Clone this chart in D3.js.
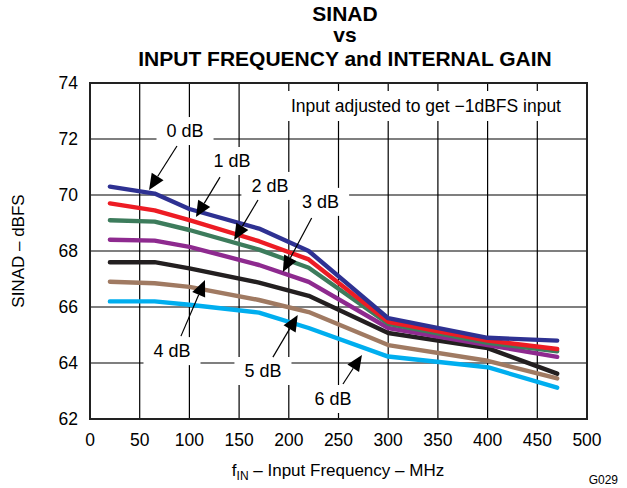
<!DOCTYPE html>
<html>
<head>
<meta charset="utf-8">
<script src="https://cdn.jsdelivr.net/npm/d3@7"></script>
<style>
  body { margin: 0; background: #fff; }
  text { font-family: "Liberation Sans", Arial, sans-serif; }
</style>
</head>
<body>
<div class="chart"></div>
<script>
// frequencies (MHz)
var freq = [20, 65, 100, 170, 220, 300, 400, 470]
// SINAD (dBFS) per internal gain
var gain0 = [70.3, 70.05, 69.5, 68.8, 68.0, 65.6, 64.9, 64.8]
var gain1 = [69.7, 69.45, 69.1, 68.35, 67.7, 65.47, 64.8, 64.5]
var gain2 = [69.1, 69.05, 68.75, 68.05, 67.4, 65.4, 64.72, 64.42]
var gain3 = [68.4, 68.37, 68.15, 67.5, 66.9, 65.25, 64.64, 64.22]
var gain4 = [67.6, 67.6, 67.38, 66.87, 66.4, 65.07, 64.53, 63.62]
var gain5 = [66.9, 66.85, 66.72, 66.25, 65.82, 64.64, 64.08, 63.45]
var gain6 = [66.2, 66.2, 66.08, 65.8, 65.25, 64.23, 63.85, 63.12]
var seriesNames = ["0 dB", "1 dB", "2 dB", "3 dB", "4 dB", "5 dB", "6 dB"]
var colors = ["#2e3192", "#ed1c24", "#3d7c5c", "#8e2a8f", "#231f20", "#a07a62", "#00aeef"]
var xTicks = [0, 50, 100, 150, 200, 250, 300, 350, 400, 450, 500]
var yTicks = [62, 64, 66, 68, 70, 72, 74]

// label position, arrow start, arrow tip (data units)
var labelPos = [[95.6, 72.32], [142.9, 71.25], [181, 70.36], [232, 69.79], [82.5, 64.46], [174, 63.75], [244.5, 62.75]]
var arrowFrom = [[87.5, 71.75], [130.8, 70.64], [169, 69.82], [223, 69.18], [91.5, 64.96], [184, 64.21], [254.5, 63.25]]
var arrowTo = [[59.4, 70.18], [106.6, 69.21], [145, 68.39], [194, 67.25], [115.7, 66.96], [209, 65.71], [273.6, 64.29]]

var all = [gain0, gain1, gain2, gain3, gain4, gain5, gain6]

var svg = d3.select(".chart")
    .append("svg")
    .attr("width", 627)
    .attr("height", 488)

var x = d3.scaleLinear().domain([0, 500]).range([90, 587])
var y = d3.scaleLinear().domain([62, 74]).range([419, 83])

// title
var title = ["SINAD", "vs", "INPUT FREQUENCY and INTERNAL GAIN"]
title.forEach((t, i) => {
    svg.append("text")
        .attr("x", 345)
        .attr("y", [21, 42, 66][i])
        .attr("text-anchor", "middle")
        .style("font-size", "21px")
        .style("font-weight", "bold")
        .text(t)
})

// grid
svg.append("g")
    .selectAll("line.v")
    .data(xTicks)
    .join("line")
    .attr("x1", d => x(d)).attr("x2", d => x(d))
    .attr("y1", y(62)).attr("y2", y(74))
    .style("stroke", "#000").style("stroke-width", 1.2)

svg.append("g")
    .selectAll("line.h")
    .data(yTicks)
    .join("line")
    .attr("x1", x(0)).attr("x2", x(500))
    .attr("y1", d => y(d)).attr("y2", d => y(d))
    .style("stroke", "#000").style("stroke-width", 1.2)

// note with white background (knocks out the grid)
var note = "Input adjusted to get \u22121dBFS input"
var noteText = svg.append("text")
    .attr("x", 561)
    .attr("y", 112)
    .attr("text-anchor", "end")
    .style("font-size", "17.5px")
    .text(note)
var nb = noteText.node().getBBox()
svg.insert("rect", "text:last-of-type")
    .attr("x", nb.x - 8).attr("y", nb.y - 5)
    .attr("width", nb.width + 16).attr("height", nb.height + 10)
    .style("fill", "#fff")

// series lines
var line = d3.line()
    .x((d, i) => x(freq[i]))
    .y(d => y(d))

for (var k = all.length - 1; k >= 0; k--) {
    svg.append("path")
        .attr("d", line(all[k]))
        .style("fill", "none")
        .style("stroke", colors[k])
        .style("stroke-width", 4.4)
        .style("stroke-linejoin", "round")
        .style("stroke-linecap", "round")
}

// annotations
seriesNames.forEach((name, i) => {
    var t = svg.append("text")
        .attr("x", x(labelPos[i][0]))
        .attr("y", y(labelPos[i][1]) + 7)
        .attr("text-anchor", "middle")
        .style("font-size", "18px")
        .text(name)
    var b = t.node().getBBox()
    svg.insert("rect", "text:last-of-type")
        .attr("x", b.x - 10).attr("y", b.y - 4)
        .attr("width", b.width + 20).attr("height", b.height + 8)
        .style("fill", "#fff")

    var x1 = x(arrowFrom[i][0]), y1 = y(arrowFrom[i][1])
    var x2 = x(arrowTo[i][0]), y2 = y(arrowTo[i][1])
    var ang = Math.atan2(y2 - y1, x2 - x1)
    var len = 16, half = 7
    var bx = x2 - len * Math.cos(ang), by = y2 - len * Math.sin(ang)
    svg.append("line")
        .attr("x1", x1).attr("y1", y1)
        .attr("x2", bx).attr("y2", by)
        .style("stroke", "#000").style("stroke-width", 1.2)
    svg.append("path")
        .attr("d", "M" + x2 + "," + y2 +
            "L" + (bx + half * Math.sin(ang)) + "," + (by - half * Math.cos(ang)) +
            "L" + (bx - half * Math.sin(ang)) + "," + (by + half * Math.cos(ang)) + "Z")
        .style("fill", "#000")
})

// frame
svg.append("rect")
    .attr("x", x(0)).attr("y", y(74))
    .attr("width", x(500) - x(0)).attr("height", y(62) - y(74))
    .style("fill", "none")
    .style("stroke", "#222").style("stroke-width", 2)

// axes labels
svg.append("g")
    .selectAll("text")
    .data(yTicks)
    .join("text")
    .attr("x", 78)
    .attr("y", d => y(d) + 6)
    .attr("text-anchor", "end")
    .style("font-size", "17.5px")
    .text(d => d)

svg.append("g")
    .selectAll("text")
    .data(xTicks)
    .join("text")
    .attr("x", d => x(d))
    .attr("y", 446)
    .attr("text-anchor", "middle")
    .style("font-size", "17.5px")
    .text(d => d)

var xl = svg.append("text")
    .attr("x", 338)
    .attr("y", 476)
    .attr("text-anchor", "middle")
    .style("font-size", "17px")
xl.append("tspan").text("f")
xl.append("tspan").attr("dy", 4).style("font-size", "12px").text("IN")
xl.append("tspan").attr("dy", -4).text(" \u2013 Input Frequency \u2013 MHz")

svg.append("text")
    .attr("transform", "translate(24,251) rotate(-90)")
    .attr("text-anchor", "middle")
    .style("font-size", "17px")
    .text("SINAD \u2013 dBFS")

svg.append("text")
    .attr("x", 618)
    .attr("y", 484)
    .attr("text-anchor", "end")
    .style("font-size", "12px")
    .text("G029")
</script>
</body>
</html>
